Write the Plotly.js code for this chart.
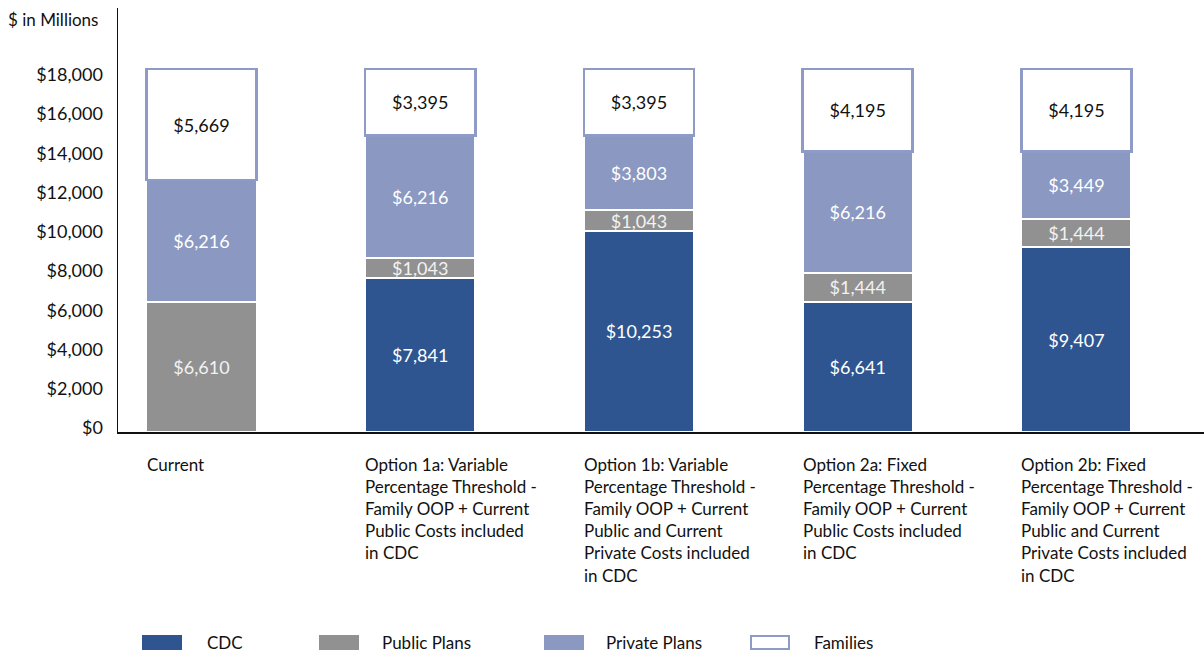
<!DOCTYPE html>
<html>
<head>
<meta charset="utf-8">
<script src="https://cdn.plot.ly/plotly-3.0.1.min.js"></script>
<style>html,body{margin:0;padding:0;background:#fff;}#chart{width:1204px;height:654px;}</style>
</head>
<body>
<div id="chart"></div>
<script>
const categories = ["Current", "Option 1a", "Option 1b", "Option 2a", "Option 2b"];
const categoryLabels = [
  "Current",
  "Option 1a: Variable<br>Percentage Threshold -<br>Family OOP + Current<br>Public Costs included<br>in CDC",
  "Option 1b: Variable<br>Percentage Threshold -<br>Family OOP + Current<br>Public and Current<br>Private Costs included<br>in CDC",
  "Option 2a: Fixed<br>Percentage Threshold -<br>Family OOP + Current<br>Public Costs included<br>in CDC",
  "Option 2b: Fixed<br>Percentage Threshold -<br>Family OOP + Current<br>Public and Current<br>Private Costs included<br>in CDC"
];
const cdc = [null, 7841, 10253, 6641, 9407];
const publicPlans = [6610, 1043, 1043, 1444, 1444];
const privatePlans = [6216, 6216, 3803, 6216, 3449];
const families = [5669, 3395, 3395, 4195, 4195];
const seriesNames = ["CDC", "Public Plans", "Private Plans", "Families"];
const yTicks = [0, 2000, 4000, 6000, 8000, 10000, 12000, 14000, 16000, 18000];
const yTickText = ["$0", "$2,000", "$4,000", "$6,000", "$8,000", "$10,000", "$12,000", "$14,000", "$16,000", "$18,000"];

const FONT = "Lato, 'Noto Sans', sans-serif";
const C_CDC = "#2E5590", C_PUB = "#919191", C_PRI = "#8A98C2", C_FAM_LINE = "#8E9BC7";
const BW = 0.503;

function barTrace(name, vals, fill, lineColor, lineW, txtColor) {
  return {
    type: "bar", name: name, x: categories, y: vals, width: BW,
    marker: {color: fill, line: {color: lineColor, width: lineW}},
    texttemplate: "$%{y:,}", textposition: "inside", insidetextanchor: "middle",
    textangle: 0, constraintext: "none",
    textfont: {family: FONT, size: 18, color: txtColor},
    hoverinfo: "skip", showlegend: false
  };
}

const data = [
  barTrace(seriesNames[0], cdc, C_CDC, "#ffffff", 2, "#ffffff"),
  barTrace(seriesNames[1], publicPlans, C_PUB, "#ffffff", 2, "#F2F2F2"),
  barTrace(seriesNames[2], privatePlans, C_PRI, "#ffffff", 2, "#ffffff"),
  barTrace(seriesNames[3], families, "#ffffff", C_FAM_LINE, 2.5, "#111111")
];

const annotations = [];
categoryLabels.forEach((t, i) => {
  annotations.push({
    xref: "x", yref: "paper", x: i - BW / 2 - 0.009, y: -0.048, xanchor: "left", yanchor: "top",
    text: t, align: "left", showarrow: false,
    font: {family: FONT, size: 17, color: "#111"}
  });
});
annotations.push({
  xref: "paper", yref: "paper", x: -0.1031, y: 0.9717, xanchor: "left", yanchor: "middle",
  text: "$ in Millions", showarrow: false, font: {family: FONT, size: 17, color: "#111"}
});

// legend built from shapes + text
const legendItems = [
  {name: seriesNames[0], fill: C_CDC, line: C_CDC, x0: 143, tx: 205},
  {name: seriesNames[1], fill: C_PUB, line: C_PUB, x0: 320, tx: 380},
  {name: seriesNames[2], fill: C_PRI, line: C_PRI, x0: 545, tx: 604},
  {name: seriesNames[3], fill: "#ffffff", line: C_FAM_LINE, x0: 751, tx: 812}
];
const L = 118, W = 1086, T = 8, H = 424;
const px = v => (v - L) / W, py = v => (T + H - v) / H;
const shapes = [];
legendItems.forEach(it => {
  shapes.push({type: "rect", xref: "paper", yref: "paper",
    x0: px(it.x0), x1: px(it.x0 + 38), y0: py(649), y1: py(636),
    fillcolor: it.fill, line: {color: it.line, width: 2}});
  annotations.push({xref: "paper", yref: "paper", x: px(it.tx), y: py(642),
    xanchor: "left", yanchor: "middle", text: it.name, showarrow: false,
    font: {family: FONT, size: 17, color: "#111"}});
});

const layout = {
  width: 1204, height: 654,
  margin: {l: 118, r: 0, t: 8, b: 222},
  paper_bgcolor: "#fff", plot_bgcolor: "#fff",
  barmode: "stack", showlegend: false, hovermode: false,
  font: {family: FONT, size: 17, color: "#111"},
  xaxis: {type: "category", range: [-0.3817, 4.583], showticklabels: false, ticks: "",
    showgrid: false, zeroline: false, showline: true, linecolor: "#111", linewidth: 1.5, fixedrange: true},
  yaxis: {range: [0, 21600], tickmode: "array", tickvals: yTicks, ticktext: yTickText,
    showgrid: false, zeroline: false, showline: true, linecolor: "#111", linewidth: 1.5,
    ticks: "", ticklabelstandoff: 10, ticklabelshift: -4,
    tickfont: {family: FONT, size: 18, color: "#111"}, fixedrange: true},
  annotations: annotations,
  shapes: shapes
};

Plotly.newPlot("chart", data, layout, {displayModeBar: false, staticPlot: true});
</script>
</body>
</html>
